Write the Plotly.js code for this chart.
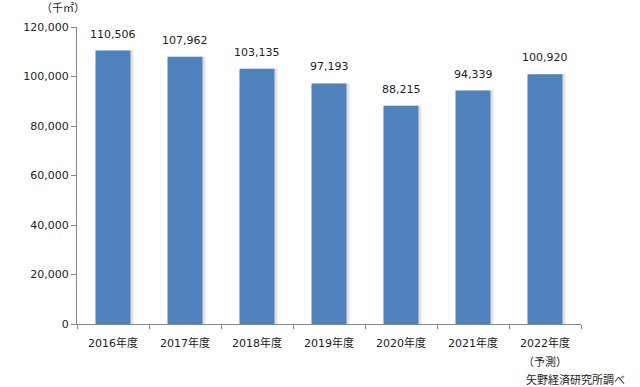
<!DOCTYPE html>
<html><head><meta charset="utf-8">
<script src="https://cdn.plot.ly/plotly-3.0.1.min.js"></script>
<style>html,body{margin:0;padding:0;background:#fff}#chart{width:640px;height:387px}</style>
</head><body><div id="chart"></div>
<script>
const categories = ["2016年度","2017年度","2018年度","2019年度","2020年度","2021年度","2022年度"];
const values = [110506,107962,103135,97193,88215,94339,100920];
const valueLabels = ["110,506","107,962","103,135","97,193","88,215","94,339","100,920"];
const yTicks = [0,20000,40000,60000,80000,100000,120000];
const yTickText = ["0","20,000","40,000","60,000","80,000","100,000","120,000"];
const font = "DejaVu Sans, Verdana, Noto Sans CJK JP, sans-serif";
const barW = 0.486;

const shadow = {
  type: "bar", x: categories, y: values,
  width: barW, offset: -barW / 2 + 0.04,
  marker: {color: "#e0e0e0", line: {width: 0}}, hoverinfo: "none"
};
const bars = {
  type: "bar", x: categories, y: values,
  width: barW, offset: -barW / 2,
  marker: {color: "#4F81BD", line: {width: 0}}, hoverinfo: "none"
};
const labelAnns = categories.map((c, i) => ({
  x: c, y: values[i], xref: "x", yref: "y", text: valueLabels[i],
  showarrow: false, yanchor: "bottom", yshift: 8,
  font: {family: font, size: 11, color: "#222"}
}));
const layout = {
  width: 640, height: 387,
  margin: {l: 77, r: 59, t: 27, b: 63},
  paper_bgcolor: "#fff", plot_bgcolor: "#fff",
  barmode: "overlay", showlegend: false,
  font: {family: font, size: 11, color: "#222"},
  xaxis: {
    type: "category", showline: true, linecolor: "#868686", linewidth: 1,
    ticks: "outside", tickson: "boundaries", ticklen: 4, tickcolor: "#868686",
    ticklabelstandoff: 9,
    showgrid: false, tickfont: {family: font, size: 11, color: "#222"}
  },
  yaxis: {
    range: [0, 120000], tickvals: yTicks, ticktext: yTickText,
    showline: true, linecolor: "#868686", linewidth: 1,
    ticks: "outside", ticklen: 5, tickcolor: "#868686",
    showgrid: false, zeroline: false,
    tickfont: {family: font, size: 11, color: "#222"}
  },
  annotations: labelAnns.concat([
    {text: "（千㎡）", xref: "paper", yref: "paper", x: -0.075, y: 1.061, xanchor: "left", yanchor: "middle", showarrow: false, font: {family: font, size: 11, color: "#222"}},
    {text: "（予測）", xref: "x", yref: "paper", x: categories[6], y: -0.128, xanchor: "center", yanchor: "middle", showarrow: false, font: {family: font, size: 11, color: "#222"}},
    {text: "矢野経済研究所調べ", xref: "paper", yref: "paper", x: 1.091, y: -0.189, xanchor: "right", yanchor: "middle", showarrow: false, font: {family: font, size: 11, color: "#222"}}
  ])
};
Plotly.newPlot("chart", [shadow, bars], layout, {staticPlot: true, displayModeBar: false});
</script></body></html>
